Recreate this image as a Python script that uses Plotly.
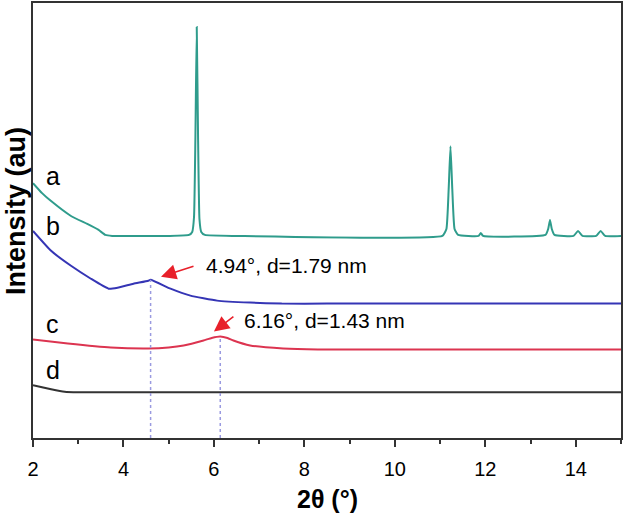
import plotly.graph_objects as go

# ---- data (2theta in degrees, intensity in arbitrary units) ----
a_x = [2.0, 2.2, 2.4, 2.84, 3.2, 3.45, 3.6, 3.75, 5.0, 5.45, 5.52, 5.56, 5.59, 5.62, 5.65, 5.68, 5.72, 5.8, 6.5,
       11.05, 11.14, 11.19, 11.23, 11.27, 11.32, 11.4, 11.85, 11.9, 11.95, 13.33, 13.39, 13.43, 13.47, 13.53,
       13.95, 14.05, 14.15, 14.45, 14.55, 14.65, 15.0]
a_y = [256, 246, 238, 223, 215, 209, 204, 203, 203, 204, 207, 222, 300, 413, 300, 220, 207, 204, 203,
       203, 210, 250, 293, 250, 210, 204, 203, 206, 203, 204, 210, 219, 210, 204,
       203, 208, 203, 203, 208, 203, 203]

b_x = [2.0, 2.4, 2.84, 3.28, 3.67, 3.87, 4.22, 4.55, 4.6, 5.04, 5.48, 6.07, 6.8, 7.5, 8.5, 10.0, 12.0, 15.0]
b_y = [208, 188, 173, 160, 150, 151, 155, 158, 159, 150, 143, 138, 136, 135, 135, 135, 135, 135]

c_x = [2.0, 2.77, 3.72, 4.55, 5.0, 5.33, 5.77, 5.95, 6.14, 6.3, 6.43, 6.8, 7.53, 8.3, 10.0, 12.0, 15.0]
c_y = [99, 95, 91, 90, 91, 93, 98, 100.5, 102, 100.5, 98, 93, 90, 89, 89, 89, 89]

d_x = [2.0, 2.2, 2.4, 2.7, 3.0, 5.0, 10.0, 15.0]
d_y = [53, 51, 49, 46.5, 46, 46, 46, 46]

peak_b = (4.6, 159)
peak_c = (6.14, 102)

curve_labels = ["a", "b", "c", "d"]
label_y = [263, 213, 115, 68]
xticks = [2, 4, 6, 8, 10, 12, 14]

colors = {"a": "#2f9c8c", "b": "#3535b5", "c": "#dc3450", "d": "#333333"}

fig = go.Figure()
for name, xs, ys in [("a", a_x, a_y), ("b", b_x, b_y), ("c", c_x, c_y), ("d", d_x, d_y)]:
    fig.add_trace(go.Scatter(x=xs, y=ys, mode="lines",
                             line=dict(color=colors[name], width=2, shape="spline", smoothing=0.4),
                             showlegend=False, hoverinfo="skip"))

# dotted guide lines from the peaks down to the axis
for px, py in [peak_b, peak_c]:
    fig.add_trace(go.Scatter(x=[px, px], y=[0, py], mode="lines",
                             line=dict(color="#9a9ae0", width=1.5, dash="dot"),
                             showlegend=False, hoverinfo="skip"))

font_txt = "Liberation Sans, Arial, sans-serif"
ann = []
# curve letters
for lab, yv in zip(curve_labels, label_y):
    ann.append(dict(x=2.44, y=yv, xref="x", yref="y", text=lab, showarrow=False,
                    font=dict(size=25, color="black", family=font_txt)))
# arrows
ann.append(dict(x=4.83, y=162, xref="x", yref="y", ax=34, ay=-11, text="", showarrow=True,
                arrowhead=2, arrowsize=1.9, arrowwidth=1.6, arrowcolor="#e8202a"))
ann.append(dict(x=6.0, y=107, xref="x", yref="y", ax=21, ay=-16, text="", showarrow=True,
                arrowhead=2, arrowsize=1.9, arrowwidth=1.6, arrowcolor="#e8202a"))
ann.append(dict(x=5.77, y=173, xref="x", yref="y", text="4.94°, d=1.79 nm", showarrow=False,
                xanchor="left", yanchor="middle", font=dict(size=21, color="black", family=font_txt)))
ann.append(dict(x=6.63, y=118, xref="x", yref="y", text="6.16°, d=1.43 nm", showarrow=False,
                xanchor="left", yanchor="middle", font=dict(size=21, color="black", family=font_txt)))
# axis titles
ann.append(dict(x=0, y=0.522, xref="paper", yref="paper", xshift=-17, text="<b>Intensity (au)</b>",
                textangle=-90, showarrow=False, xanchor="center", yanchor="middle",
                font=dict(size=27, color="black", family=font_txt)))
ann.append(dict(x=0.5, y=-0.1396, xref="paper", yref="paper", text="<b>2θ (°)</b>",
                showarrow=False, xanchor="center", yanchor="middle",
                font=dict(size=25, color="black", family=font_txt)))

fig.update_layout(
    width=624, height=515,
    margin=dict(l=33, r=2, t=1, b=77),
    plot_bgcolor="white", paper_bgcolor="white",
    annotations=ann,
    xaxis=dict(range=[2, 15], tickvals=xticks, ticks="outside", ticklen=7, tickwidth=1.5,
               tickcolor="#333333", showline=True, linecolor="#333333", linewidth=1.5, mirror=True,
               showgrid=False, zeroline=False, ticklabelstandoff=5,
               tickfont=dict(size=20, color="black", family=font_txt),
               minor=dict(dtick=1, tick0=2, ticks="outside", ticklen=4, tickwidth=1.5,
                          tickcolor="#333333", showgrid=False)),
    yaxis=dict(range=[0, 437], showticklabels=False, ticks="", showline=True, linecolor="#333333",
               linewidth=1.5, mirror=True, showgrid=False, zeroline=False),
)

fig.write_html("out.html", config={"displayModeBar": False},
               post_script="document.body.style.margin='0px';document.body.style.overflow='hidden';")
